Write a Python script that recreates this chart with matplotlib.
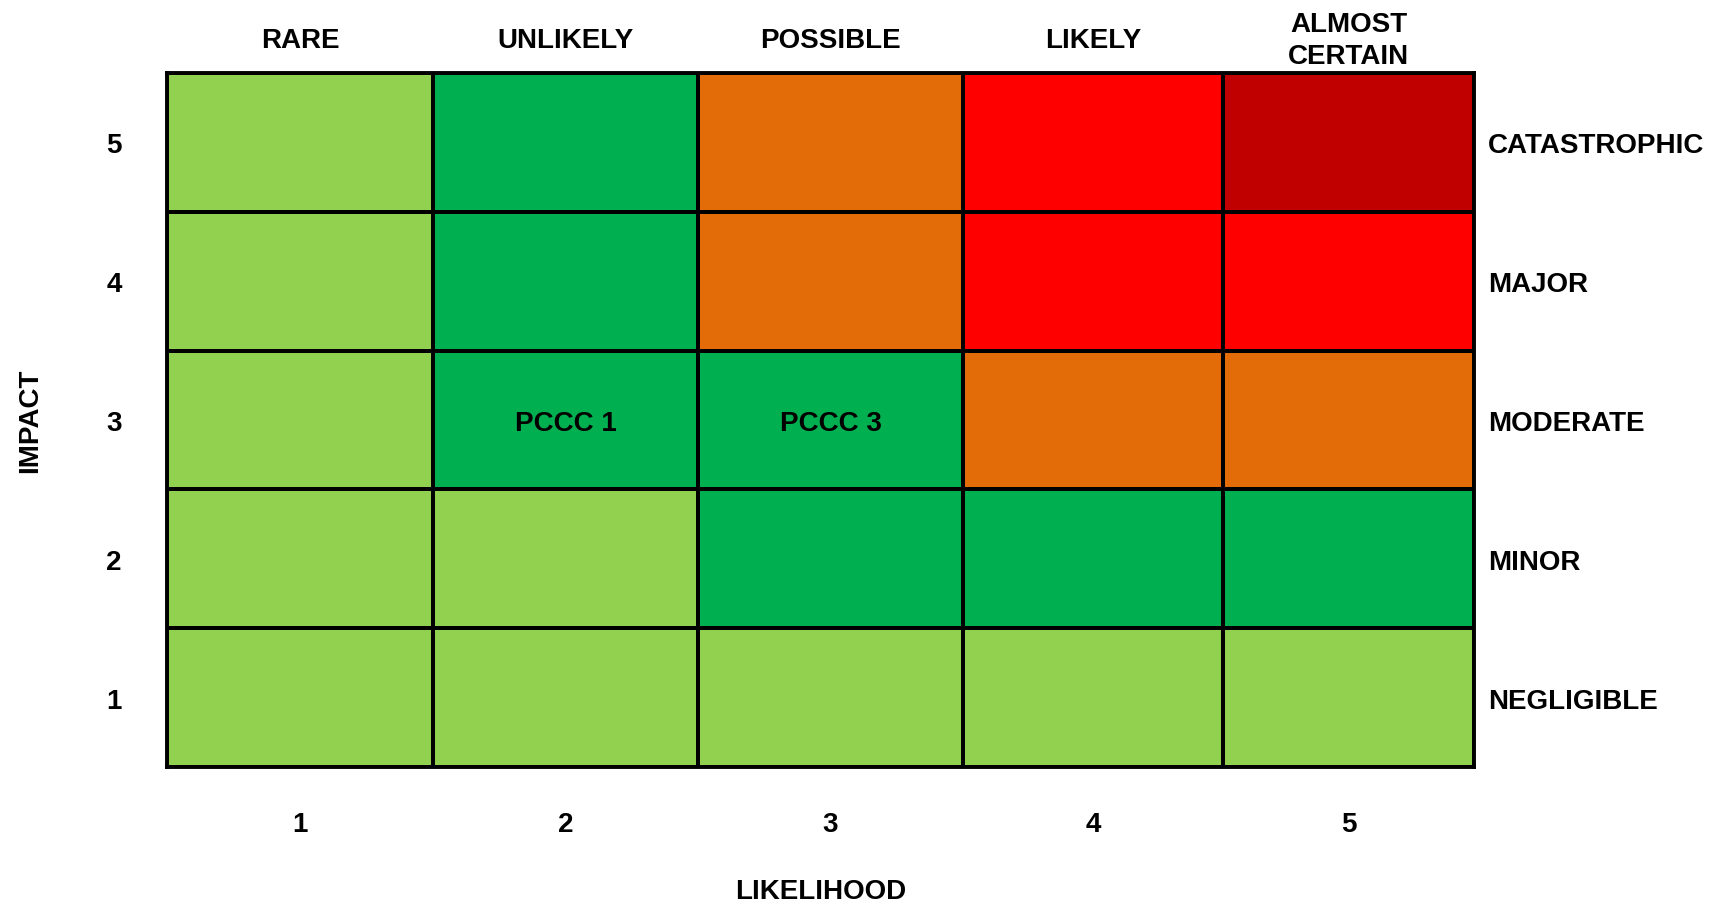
import numpy as np
import matplotlib
matplotlib.use("Agg")
import matplotlib.pyplot as plt
from matplotlib.colors import ListedColormap, BoundaryNorm

plt.rcParams['font.family'] = ['Liberation Sans', 'DejaVu Sans']

# Axis categories
likelihood_labels = ["RARE", "UNLIKELY", "POSSIBLE", "LIKELY", "ALMOST\nCERTAIN"]
likelihood_scores = [1, 2, 3, 4, 5]
impact_labels = ["NEGLIGIBLE", "MINOR", "MODERATE", "MAJOR", "CATASTROPHIC"]
impact_scores = [1, 2, 3, 4, 5]

# Risk level per cell (rows = impact 1..5, columns = likelihood 1..5)
# 0 low, 1 medium-low, 2 medium, 3 high, 4 extreme
risk_level = [
    [0, 0, 0, 0, 0],
    [0, 0, 1, 1, 1],
    [0, 1, 1, 2, 2],
    [0, 1, 2, 3, 3],
    [0, 1, 2, 3, 4],
]
level_colors = ["#92D050", "#00B050", "#E36C09", "#FF0000", "#C00000"]

# Items placed on the matrix: (likelihood, impact, name)
items = [(2, 3, "PCCC 1"), (3, 3, "PCCC 3")]

fig = plt.figure(figsize=(17.09, 9.03), dpi=100)
ax = fig.add_axes([167 / 1709, 1 - 768 / 903, (1474 - 167) / 1709, (768 - 74) / 903])

# Cell boundaries along the likelihood axis (columns are slightly unequal)
col_px = np.array([167, 433, 698, 963, 1223, 1474])
x_edges = 0.5 + (col_px - col_px[0]) / (col_px[-1] - col_px[0]) * 5
x_centers = (x_edges[:-1] + x_edges[1:]) / 2
y_edges = np.arange(0.5, 6.0, 1.0)

cmap = ListedColormap(level_colors)
norm = BoundaryNorm(np.arange(-0.5, len(level_colors) + 0.5), cmap.N)
ax.pcolormesh(x_edges, y_edges, np.array(risk_level), cmap=cmap, norm=norm,
              edgecolor="black", linewidth=2.6)

ax.set_xlim(x_edges[0], x_edges[-1])
ax.set_ylim(y_edges[0], y_edges[-1])
for s in ax.spines.values():
    s.set_linewidth(2.8)
    s.set_color("black")
ax.set_xticks([])
ax.set_yticks([])

fs = 20
row_px = 694 / 5      # pixel height of one row
unit_x = 1307 / 5     # pixel width of one x unit
drop = 3 / row_px     # nudge so capitals sit visually centred

for (lx, ly, name) in items:
    ax.text(x_centers[lx - 1], ly - drop, name, ha="center", va="center",
            fontsize=fs, fontweight="bold", color="black")

# Likelihood names above the grid
for xc, lab in zip(x_centers, likelihood_labels):
    ax.text(xc, 5.5 + 33 / row_px, lab, ha="center", va="center", fontsize=fs,
            fontweight="bold", linespacing=1.25, clip_on=False)

# Likelihood scores below the grid
for xc, sc in zip(x_centers, likelihood_scores):
    ax.text(xc, 0.5 - 57 / row_px, str(sc), ha="center", va="center",
            fontsize=fs, fontweight="bold", clip_on=False)

# Impact scores left, impact names right
for yv, sc, lab in zip(impact_scores, impact_scores, impact_labels):
    ax.text(x_edges[0] - 53 / unit_x, yv - drop, str(sc), ha="center",
            va="center", fontsize=fs, fontweight="bold", clip_on=False)
    ax.text(x_edges[-1] + 14 / unit_x, yv - drop, lab, ha="left",
            va="center", fontsize=fs, fontweight="bold", clip_on=False)

fig.text(30 / 1709, 1 - 421 / 903, "IMPACT", rotation=90, ha="center",
         va="center", fontsize=fs, fontweight="bold")
fig.text(821 / 1709, 1 - 892 / 903, "LIKELIHOOD", ha="center", va="center",
         fontsize=fs, fontweight="bold")

fig.savefig("out.png", dpi=100, facecolor="white")
